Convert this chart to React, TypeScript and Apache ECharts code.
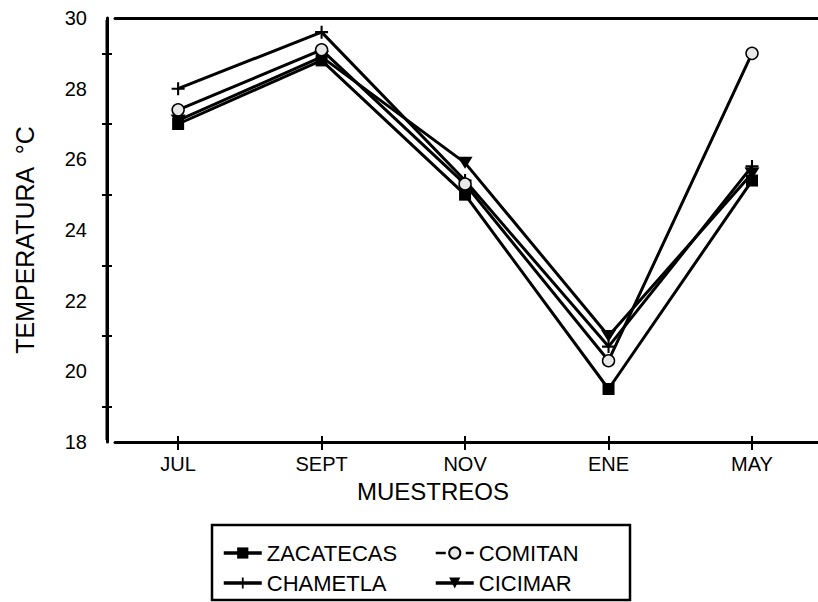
import React, { useEffect, useRef } from "react";
import * as echarts from "echarts";

const categories = ["JUL", "SEPT", "NOV", "ENE", "MAY"];
const zacatecas = [27.0, 28.8, 25.0, 19.5, 25.4];
const comitan = [27.4, 29.1, 25.3, 20.3, 29.0];
const chametla = [28.0, 29.6, 25.4, 20.7, 25.8];
const cicimar = [27.1, 28.9, 25.9, 21.0, 25.6];
const yTicks = { min: 18, max: 30, interval: 2 };
const xRange = { min: -0.44, max: 4.46 };

const FONT = "'Liberation Sans', Arial, Helvetica, sans-serif";
const PLUS = "path://M4.2,0H5.8V4.2H10V5.8H5.8V10H4.2V5.8H0V4.2H4.2Z";
const TRI_DOWN = "path://M0,0H10L5,8Z";

export default function App() {
  const ref = useRef<HTMLDivElement>(null);
  useEffect(() => {
    if (!ref.current) return;
    const chart = echarts.init(ref.current, undefined, { renderer: "svg" });
    const idx = categories.map((_, i) => i);
    const toPts = (arr: number[]) => arr.map((v, i) => [i, v]);
    const black = "#000";
    const lineBase = {
      type: "line",
      xAxisIndex: 0,
      yAxisIndex: 0,
      showSymbol: true,
      lineStyle: { color: black, width: 3 },
    };
    const legendBase = {
      orient: "vertical",
      top: 537,
      itemWidth: 38,
      itemHeight: 14,
      itemGap: 8,
      selectedMode: false,
      lineStyle: { width: 3.5 },
      textStyle: { fontSize: 22, color: black, fontFamily: FONT },
    };
    const option: any = {
      animation: false,
      grid: { left: 115, right: 0, top: 18, bottom: 160 },
      xAxis: [
        {
          type: "value",
          min: xRange.min,
          max: xRange.max,
          position: "bottom",
          axisLine: { show: true, onZero: false, lineStyle: { color: black, width: 3 } },
          splitLine: { show: false },
          axisTick: { show: true, customValues: idx, length: 8, lineStyle: { color: black, width: 2 } },
          axisLabel: {
            customValues: idx,
            formatter: (v: number) => categories[Math.round(v)],
            margin: 12,
            fontSize: 20,
            color: black,
            fontFamily: FONT,
          },
        },
        {
          type: "value",
          min: xRange.min,
          max: xRange.max,
          position: "bottom",
          axisLine: { show: false, onZero: false },
          splitLine: { show: false },
          axisTick: { show: true, inside: true, customValues: idx, length: 6, lineStyle: { color: black, width: 2 } },
          axisLabel: { show: false },
        },
        {
          type: "value",
          min: xRange.min,
          max: xRange.max,
          position: "top",
          axisLine: { show: true, onZero: false, lineStyle: { color: black, width: 3 } },
          splitLine: { show: false },
          axisTick: { show: false },
          axisLabel: { show: false },
        },
      ],
      yAxis: [
        {
          type: "value",
          position: "left",
          min: yTicks.min,
          max: yTicks.max,
          interval: yTicks.interval,
          offset: 8,
          axisLine: { show: true, onZero: false, lineStyle: { color: black, width: 3 } },
          axisTick: { show: false },
          minorTick: { show: true, splitNumber: 2, length: 5, lineStyle: { color: black, width: 2 } },
          splitLine: { show: false },
          minorSplitLine: { show: false },
          axisLabel: { margin: 20, fontSize: 20, color: black, fontFamily: FONT },
        },
        {
          type: "value",
          position: "left",
          min: yTicks.min,
          max: yTicks.max,
          interval: yTicks.interval,
          offset: 8,
          axisLine: { show: false, onZero: false },
          axisTick: { show: false, inside: true },
          minorTick: { show: true, splitNumber: 2, length: 5, lineStyle: { color: black, width: 2 } },
          splitLine: { show: false },
          minorSplitLine: { show: false },
          axisLabel: { show: false },
        },
      ],
      legend: [
        {
          ...legendBase,
          data: [{ name: "ZACATECAS" }, { name: "CHAMETLA" }],
          left: 217,
        },
        {
          ...legendBase,
          data: [
            { name: "COMITAN", lineStyle: { type: "dashed", width: 2.5 } },
            { name: "CICIMAR" },
          ],
          left: 429,
        },
      ],
      graphic: [
        {
          type: "line",
          shape: { x1: 107, y1: 20, x2: 107, y2: 440 },
          style: { stroke: black, lineWidth: 3 },
          z: 10,
        },
        {
          type: "rect",
          shape: { x: 212, y: 525, width: 418, height: 75 },
          style: { fill: "none", stroke: black, lineWidth: 2.5 },
        },
        {
          type: "text",
          x: 433,
          y: 491,
          style: { text: "MUESTREOS", font: `24px ${FONT}`, fill: black, align: "center", verticalAlign: "middle" },
        },
        {
          type: "text",
          x: 25,
          y: 240,
          rotation: Math.PI / 2,
          style: { text: "TEMPERATURA  °C", font: `25px ${FONT}`, fill: black, align: "center", verticalAlign: "middle" },
        },
      ],
      series: [
        {
          ...lineBase,
          name: "ZACATECAS",
          data: toPts(zacatecas),
          symbol: "rect",
          symbolSize: 12,
          itemStyle: { color: black },
        },
        {
          ...lineBase,
          name: "CHAMETLA",
          data: toPts(chametla),
          symbol: PLUS,
          symbolSize: 13,
          itemStyle: { color: black },
        },
        {
          ...lineBase,
          name: "CICIMAR",
          data: toPts(cicimar),
          symbol: TRI_DOWN,
          symbolSize: [15, 12],
          itemStyle: { color: black },
        },
        {
          ...lineBase,
          name: "COMITAN",
          data: toPts(comitan),
          symbol: "circle",
          symbolSize: 12,
          itemStyle: { color: "#e8e8e8", borderColor: black, borderWidth: 1.5 },
        },
      ],
    };
    chart.setOption(option);
    return () => chart.dispose();
  }, []);
  return (
    <div
      ref={ref}
      style={{ position: "fixed", left: 0, top: 0, width: 818, height: 602, background: "#fff" }}
    />
  );
}
